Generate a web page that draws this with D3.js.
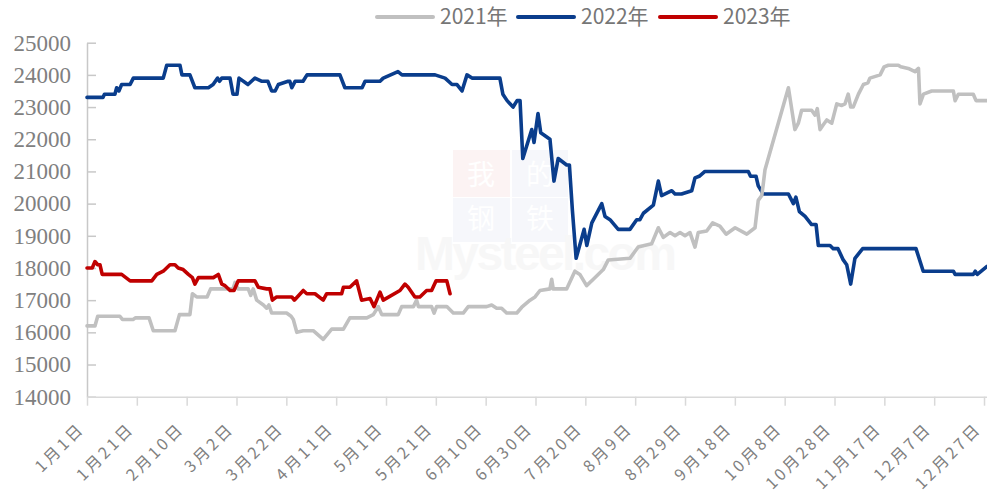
<!DOCTYPE html>
<html>
<head>
<meta charset="utf-8">
<script src="https://cdn.jsdelivr.net/npm/d3@7"></script>
<style>
  html, body { margin: 0; padding: 0; background: #ffffff; }
  svg { display: block; }
</style>
</head>
<body>
<div id="chart"></div>
<script>
// ---------------- DATA ----------------
// x values are day offsets from 1月1日; y values are prices
const seriesNames = ["2021年", "2022年", "2023年"];

const tickDays = [0, 20, 40, 60, 80, 100, 120, 140, 160, 180, 200, 220, 240, 260, 280, 300, 320, 340, 360];
const tickLabels = ["1月1日", "1月21日", "2月10日", "3月2日", "3月22日", "4月11日", "5月1日", "5月21日", "6月10日",
  "6月30日", "7月20日", "8月9日", "8月29日", "9月18日", "10月8日", "10月28日", "11月17日", "12月7日", "12月27日"];

const yTicks = [14000, 15000, 16000, 17000, 18000, 19000, 20000, 21000, 22000, 23000, 24000, 25000];

const days2021 = [0, 3.2, 4.3, 13.2, 14.2, 18.5, 19.5, 24.9, 26.6, 35.3, 37.1, 41.3, 42.3, 44.0, 48.2, 49.6, 58.6, 59.4, 60.6,
  64.7, 65.7, 66.7, 68.1, 70.8, 72.1, 73.0, 74.1, 80.1, 81.9, 82.8, 84.2, 86.8, 90.8, 94.8, 98.2, 102.9, 105.5, 112.3,
  114.9, 116.9, 118.3, 124.9, 126.3, 131.0, 132.3, 133.0, 138.3, 139.3, 140.3, 144.4, 147.0, 151.0, 153.0, 160.4, 162.4,
  164.4, 166.4, 168.4, 172.5, 174.5, 177.8, 179.8, 181.8, 185.8, 186.5, 187.1, 192.5, 195.8, 197.8, 200.5, 203.2, 207.2,
  209.2, 217.9, 221.2, 226.6, 229.3, 231.3, 234.0, 236.0, 238.0, 240.0, 242.0, 244.0, 245.3, 248.7, 251.1, 254.0, 256.5,
  260.1, 264.8, 268.1, 269.4, 270.8, 271.4, 272.1, 281.5, 284.1, 285.5, 286.8, 290.8, 292.2, 293.1, 294.2, 295.5, 296.9,
  298.9, 300.9, 302.9, 304.2, 305.5, 306.5, 307.5, 309.6, 311.6, 313.4, 314.2, 318.3, 319.9, 321.6, 325.6, 326.6, 329.6,
  332.3, 333.7, 334.3, 335.7, 339.0, 347.7, 348.4, 349.7, 355.7, 356.8, 361.2];
const vals2021 = [16200, 16200, 16500, 16500, 16400, 16400, 16450, 16450, 16050, 16050, 16550, 16550, 17200, 17100, 17100,
  17350, 17350, 17550, 17350, 17350, 17150, 17350, 17000, 16850, 16750, 16850, 16600, 16600, 16500, 16400, 16000, 16050,
  16050, 15780, 16100, 16100, 16450, 16450, 16550, 16800, 16550, 16550, 16800, 16800, 17000, 16800, 16800, 16600, 16800,
  16800, 16600, 16600, 16800, 16800, 16850, 16750, 16750, 16600, 16600, 16780, 17000, 17100, 17300, 17350, 17650, 17350,
  17350, 17900, 17800, 17450, 17650, 17950, 18250, 18300, 18650, 18750, 19250, 18950, 19100, 19000, 19100, 19000, 19100,
  18650, 19100, 19150, 19400, 19300, 19050, 19250, 19050, 19250, 20100, 20250, 20600, 21050, 23600, 22300, 22500, 22900,
  22900, 22750, 22950, 22300, 22450, 22600, 22500, 23100, 23050, 23100, 23400, 23000, 23000, 23400, 23700, 23750, 23900,
  24000, 24250, 24300, 24300, 24250, 24200, 24100, 24200, 23100, 23400, 23500, 23500, 23200, 23400, 23400, 23200, 23200];

const days2022 = [0, 6.4, 7.0, 11.2, 11.9, 12.8, 13.9, 17.3, 18.6, 30.6, 32.0, 37.3, 38.1, 41.3, 43.3, 48.7, 50.6, 52.4,
  53.2, 54.1, 57.4, 58.6, 60.2, 61.0, 64.6, 67.4, 70.2, 72.6, 74.1, 75.5, 76.8, 80.7, 81.4, 82.2, 83.5, 86.7, 88.3, 101.5,
  103.5, 110.4, 111.6, 117.6, 118.9, 124.8, 126.4, 139.7, 143.7, 146.5, 148.5, 150.5, 152.5, 154.5, 165.7, 166.9, 168.6,
  171.0, 172.6, 173.8, 174.9, 178.5, 179.4, 181.0, 182.1, 185.8, 187.4, 189.1, 192.5, 193.6, 194.8, 196.3, 199.5, 200.6,
  202.6, 206.6, 207.9, 209.9, 213.2, 217.9, 220.6, 221.9, 223.3, 227.3, 229.3, 230.6, 234.7, 236.0, 238.6, 242.7, 244.0,
  245.7, 248.0, 265.4, 266.3, 268.5, 269.4, 271.4, 281.5, 283.5, 284.5, 285.9, 288.2, 290.8, 292.6, 293.5, 298.2, 299.5,
  301.4, 303.5, 304.9, 306.5, 308.2, 311.3, 332.7, 335.6, 347.7, 348.4, 355.7, 356.5, 357.3, 361.2];
const vals2022 = [23300, 23300, 23400, 23400, 23600, 23500, 23700, 23700, 23900, 23900, 24300, 24300, 24000, 24000, 23600,
  23600, 23700, 23900, 23800, 23900, 23900, 23400, 23400, 23900, 23700, 23900, 23800, 23800, 23500, 23500, 23700, 23800,
  23800, 23600, 23800, 23800, 24000, 24000, 23600, 23600, 23800, 23800, 23900, 24100, 24000, 24000, 23900, 23700, 23700,
  23500, 24000, 23900, 23900, 23400, 23200, 23000, 23200, 23200, 21400, 22300, 21900, 22800, 22200, 22000, 20700, 21400,
  21200, 21200, 19800, 18300, 19200, 18700, 19400, 20000, 19600, 19500, 19200, 19200, 19500, 19500, 19700, 19950, 20700,
  20250, 20400, 20300, 20300, 20400, 20800, 20850, 21000, 21000, 20850, 20850, 20550, 20300, 20300, 20000, 20200, 19750,
  19600, 19350, 19350, 18700, 18700, 18600, 18600, 18250, 18100, 17500, 18300, 18600, 18600, 17900, 17900, 17800, 17800,
  17900, 17800, 18050];

const days2023 = [0, 2.1, 3.2, 4.3, 5.2, 6.1, 13.9, 17.3, 26.0, 28.0, 30.6, 33.3, 35.3, 36.6, 38.6, 40.7, 42.3, 43.3, 44.7,
  50.7, 52.7, 54.1, 55.4, 57.4, 59.0, 60.7, 67.4, 68.8, 72.1, 73.4, 74.4, 76.1, 82.2, 83.2, 86.8, 88.2, 91.5, 94.8, 96.2,
  102.2, 102.9, 105.5, 108.2, 110.2, 113.6, 115.2, 117.6, 118.9, 125.6, 127.6, 128.9, 131.6, 133.6, 136.3, 138.3, 140.1,
  144.4, 145.7];
const vals2023 = [18000, 18000, 18200, 18100, 18100, 17800, 17800, 17600, 17600, 17800, 17900, 18100, 18100, 18000, 17950,
  17800, 17700, 17500, 17700, 17700, 17800, 17500, 17450, 17300, 17300, 17600, 17600, 17400, 17350, 17350, 17000, 17100,
  17100, 17000, 17300, 17200, 17200, 17000, 17200, 17200, 17400, 17400, 17600, 17000, 17050, 16800, 17250, 17000, 17300,
  17500, 17400, 17100, 17100, 17300, 17300, 17600, 17600, 17200];

const seriesColors = ["#c0c0c0", "#0a3d8c", "#c00000"];

// ---------------- CHART ----------------
const W = 987, H = 501;
const svg = d3.select("#chart").append("svg").attr("width", W).attr("height", H);

const x = d3.scaleLinear().domain([0, 361.2]).range([87, 987]);
const y = d3.scaleLinear().domain([14000, 25000]).range([396.7, 42.7]);

// watermark (faint)
const wm = svg.append("g").attr("opacity", 0.5);
wm.append("rect").attr("x", 453).attr("y", 150).attr("width", 57).attr("height", 47).attr("fill", "#fbe9e9");
wm.append("rect").attr("x", 512).attr("y", 150).attr("width", 56).attr("height", 47).attr("fill", "#eef1f8");
wm.append("rect").attr("x", 453).attr("y", 198).attr("width", 57).attr("height", 44).attr("fill", "#eef1f8");
wm.append("rect").attr("x", 512).attr("y", 198).attr("width", 56).attr("height", 44).attr("fill", "#eef1f8");
[["我", 481, 185], ["的", 540, 185], ["钢", 481, 229], ["铁", 540, 229]].forEach(([t, cx, cy]) => {
  wm.append("text").attr("x", cx).attr("y", cy).attr("text-anchor", "middle")
    .attr("font-family", "Noto Sans CJK SC").attr("font-size", 28).attr("fill", "#ffffff").text(t);
});
wm.append("text").attr("x", 415).attr("y", 270).attr("textLength", 262)
  .attr("font-family", "Liberation Sans").attr("font-weight", "bold").attr("font-size", 48)
  .attr("fill", "#f1f1f1").text("Mysteel.com");

// Y axis
const yAxis = d3.axisLeft(y).tickValues(yTicks).tickSizeInner(-9).tickSizeOuter(0).tickPadding(16)
  .tickFormat(d3.format("d"));
const gy = svg.append("g").attr("transform", "translate(87,0)").call(yAxis);
gy.select(".domain").attr("stroke", "#c8c8c8").attr("stroke-width", 1.5);
gy.selectAll(".tick line").attr("stroke", "#c8c8c8").attr("stroke-width", 1.5);
gy.selectAll(".tick text").attr("font-family", "Liberation Serif").attr("font-size", 23)
  .attr("fill", "#808080");

// X axis
const xAxis = d3.axisBottom(x).tickValues(tickDays).tickSizeInner(9).tickSizeOuter(0)
  .tickFormat((d, i) => tickLabels[i]);
const gx = svg.append("g").attr("transform", `translate(0,${y(14000)})`).call(xAxis);
gx.select(".domain").attr("stroke", "#d9d9d9").attr("stroke-width", 1.5);
gx.selectAll(".tick line").attr("stroke", "#d9d9d9").attr("stroke-width", 1.5);
gx.selectAll(".tick text")
  .attr("x", 0).attr("y", 0).attr("dy", "0.35em")
  .attr("text-anchor", "end")
  .attr("transform", "translate(-6,29) rotate(-45)")
  .attr("font-family", "Noto Sans CJK SC").attr("font-size", 16)
  .attr("letter-spacing", "3px")
  .attr("fill", "#808080");

// Lines
const line = d3.line().x(d => x(d[0])).y(d => y(d[1])).curve(d3.curveLinear);
const allSeries = [
  { name: seriesNames[0], color: seriesColors[0], pts: d3.zip(days2021, vals2021) },
  { name: seriesNames[1], color: seriesColors[1], pts: d3.zip(days2022, vals2022) },
  { name: seriesNames[2], color: seriesColors[2], pts: d3.zip(days2023, vals2023) }
];
const drawOrder = [1, 0, 2];
drawOrder.forEach(i => {
  const s = allSeries[i];
  svg.append("path").datum(s.pts).attr("d", line)
    .attr("fill", "none").attr("stroke", s.color).attr("stroke-width", 3.6)
    .attr("stroke-linejoin", "round").attr("stroke-linecap", "round");
});

// Legend
const legendX = [377, 518, 660];
const lg = svg.append("g");
allSeries.forEach((s, i) => {
  lg.append("line").attr("x1", legendX[i]).attr("x2", legendX[i] + 56).attr("y1", 17).attr("y2", 17)
    .attr("stroke", s.color).attr("stroke-width", 4).attr("stroke-linecap", "round");
  lg.append("text").attr("x", legendX[i] + 63).attr("y", 17).attr("dy", "0.35em")
    .attr("font-family", "Noto Sans CJK SC").attr("font-size", 21).attr("fill", "#767676")
    .text(s.name);
});
</script>
</body>
</html>
